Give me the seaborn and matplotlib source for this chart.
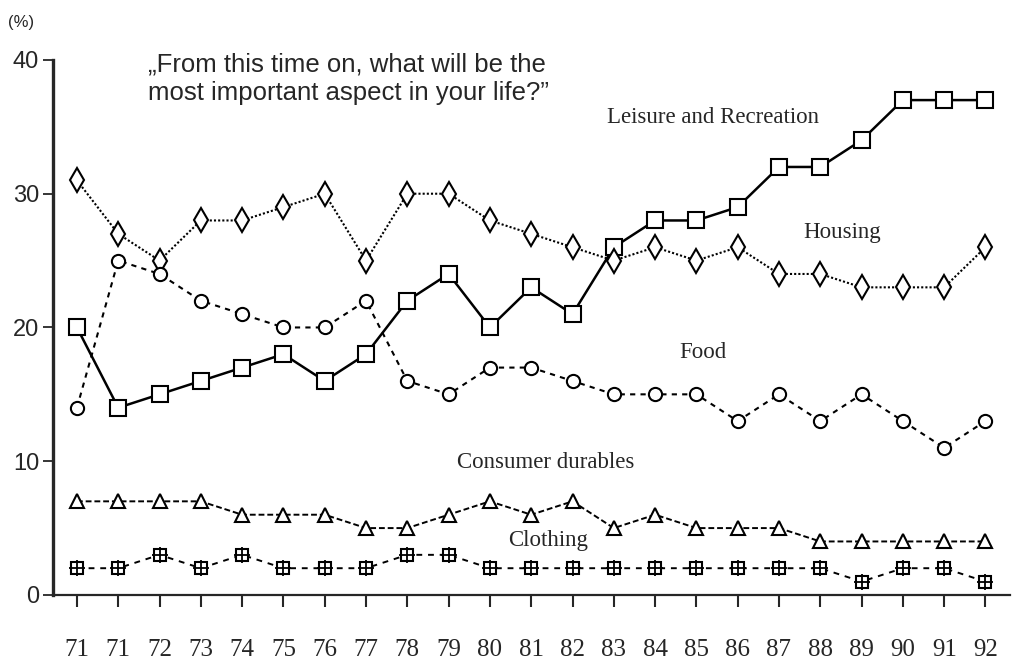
import matplotlib
matplotlib.use("Agg")
import matplotlib.pyplot as plt
import seaborn as sns
import numpy as np

# survey years as printed on the axis (1971 appears twice)
years = ["71", "71", "72", "73", "74", "75", "76", "77", "78", "79", "80", "81",
         "82", "83", "84", "85", "86", "87", "88", "89", "90", "91", "92"]

leisure = [20, 14, 15, 16, 17, 18, 16, 18, 22, 24, 20, 23,
           21, 26, 28, 28, 29, 32, 32, 34, 37, 37, 37]
housing = [31, 27, 25, 28, 28, 29, 30, 25, 30, 30, 28, 27,
           26, 25, 26, 25, 26, 24, 24, 23, 23, 23, 26]
food = [14, 25, 24, 22, 21, 20, 20, 22, 16, 15, 17, 17,
        16, 15, 15, 15, 13, 15, 13, 15, 13, 11, 13]
durables = [7, 7, 7, 7, 6, 6, 6, 5, 5, 6, 7, 6,
            7, 5, 6, 5, 5, 5, 4, 4, 4, 4, 4]
clothing = [2, 2, 3, 2, 3, 2, 2, 2, 3, 3, 2, 2,
            2, 2, 2, 2, 2, 2, 2, 1, 2, 2, 1]

yticks = [0, 10, 20, 30, 40]

sns.set_style("ticks")
plt.rcParams["font.family"] = ["Liberation Serif", "DejaVu Sans"]

fig = plt.figure(figsize=(10.13, 6.70), dpi=100)
ax = fig.add_axes([0.0523, 0.112, 0.945, 0.7985])

pos = np.arange(len(years))

common = dict(ax=ax, color="black", markerfacecolor="white",
              markeredgecolor="black", markeredgewidth=1.5)

sns.lineplot(x=pos, y=leisure, marker="s", markersize=11.5, linewidth=1.8,
             linestyle="-", **common)
sns.lineplot(x=pos, y=housing, marker="d", markersize=12, linewidth=1.5,
             linestyle=(0, (1, 1)), **common)
sns.lineplot(x=pos, y=food, marker="o", markersize=9.5, linewidth=1.5,
             linestyle=(0, (2.5, 2.5)), **common)
sns.lineplot(x=pos, y=durables, marker="^", markersize=9.5, linewidth=1.4,
             linestyle=(0, (3, 1.5)), **common)
sns.lineplot(x=pos, y=clothing, marker="s", markersize=9, linewidth=1.4,
             linestyle=(0, (3, 3)), **common)
# cross inside the clothing boxes
ax.plot(pos, clothing, linestyle="none", marker="+", markersize=11,
        markeredgewidth=1.3, color="black")

ax.set_xlim(-0.58, 22.6)
ax.set_ylim(0, 40)
ax.set_xticks(pos)
ax.set_xticklabels(years, fontsize=18)
ax.set_yticks(yticks)
ax.set_yticklabels([str(t) for t in yticks], fontsize=17,
                   fontfamily="Liberation Sans")
ax.tick_params(axis="x", direction="out", length=8.5, width=1.5, pad=23)
ax.tick_params(axis="y", direction="out", length=7, width=1.3, pad=3)
ax.set_xlabel("")
ax.set_ylabel("")

for side in ["top", "right"]:
    ax.spines[side].set_visible(False)
ax.spines["left"].set_linewidth(2.4)
ax.spines["bottom"].set_linewidth(1.6)

# question text
ax.text(1.72, 38.6, "\u201eFrom this time on, what will be the\nmost important aspect in your life?\u201d",
        fontsize=18.5, fontfamily="Liberation Sans", ha="left", va="center",
        linespacing=1.25)

# series labels
ax.text(15.39, 35.7, "Leisure and Recreation", fontsize=16.5, ha="center", va="center")
ax.text(18.54, 27.1, "Housing", fontsize=16.5, ha="center", va="center")
ax.text(15.17, 18.1, "Food", fontsize=16.5, ha="center", va="center")
ax.text(11.36, 9.87, "Consumer durables", fontsize=16.5, ha="center", va="center")
ax.text(11.4, 4.1, "Clothing", fontsize=16.5, ha="center", va="center")

fig.text(0.008, 0.967, "(%)", fontsize=12, fontfamily="Liberation Sans",
         ha="left", va="center")

fig.savefig("out.png", dpi=100)
